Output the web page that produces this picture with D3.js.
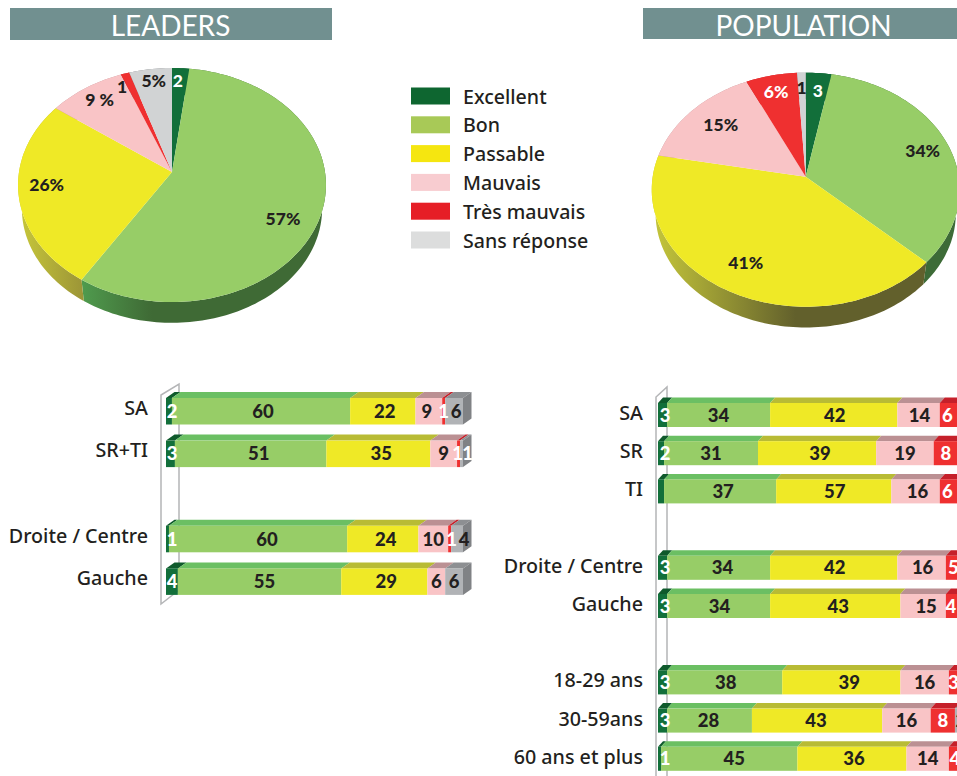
<!DOCTYPE html>
<html>
<head>
<meta charset="utf-8">
<script src="https://cdn.jsdelivr.net/npm/d3@7"></script>
<style>
    html, body { margin: 0; padding: 0; background: #fff; overflow: hidden; }
    text { font-family: Lato, sans-serif; fill: #231f20; }
    .num { font-weight: 900; text-anchor: middle; dominant-baseline: central; }
    .cat { font-family: "Noto Sans", sans-serif; font-size: 19.7px; font-weight: 500; text-anchor: end; dominant-baseline: central; }
</style>
</head>
<body>
<div id="chart"></div>
<script>
// Chart data
var answers = ["Excellent", "Bon", "Passable", "Mauvais", "Très mauvais", "Sans réponse"];

var leadersPie = [2, 57, 26, 9, 1, 5];
var leadersPieLabels = ["2", "57%", "26%", "9 %", "1", "5%"];
var populationPie = [3, 34, 41, 15, 6, 1];
var populationPieLabels = ["3", "34%", "41%", "15%", "6%", "1"];

var leadersCategories = ["SA", "SR+TI", "Droite / Centre", "Gauche"];
var leadersValues = [
    [2, 60, 22, 9, 1, 6],
    [3, 51, 35, 9, 1, 1],
    [1, 60, 24, 10, 1, 4],
    [4, 55, 29, 6, 0, 6]
];
var leadersLabels = [
    ["2", "60", "22", "9", "1", "6"],
    ["3", "51", "35", "9", "1", "1"],
    ["1", "60", "24", "10", "1", "4"],
    ["4", "55", "29", "6", "", "6"]
];

var populationCategories = ["SA", "SR", "TI", "Droite / Centre", "Gauche", "18-29 ans", "30-59ans", "60 ans et plus"];
var populationValues = [
    [3, 34, 42, 14, 6, 1],
    [2, 31, 39, 19, 8, 1],
    [2, 37, 38, 16, 6, 1],
    [3, 34, 42, 16, 5, 0],
    [3, 34, 43, 15, 4, 1],
    [3, 38, 39, 16, 3, 1],
    [3, 28, 43, 16, 8, 2],
    [1, 45, 36, 14, 4, 0]
];
// printed numbers; the TI bar prints 57 on a segment drawn at about 38
var populationLabels = [
    ["3", "34", "42", "14", "6", ""],
    ["2", "31", "39", "19", "8", "1"],
    ["", "37", "57", "16", "6", "1"],
    ["3", "34", "42", "16", "5", ""],
    ["3", "34", "43", "15", "4", ""],
    ["3", "38", "39", "16", "3", ""],
    ["3", "28", "43", "16", "8", "2"],
    ["1", "45", "36", "14", "4", ""]
];

// Colours by answer
var frontColors = ["#126f3a", "#97cd67", "#efe926", "#f9c4c6", "#ef3030", "#b1b3b6"];
var topColors = ["#0f5a2c", "#6bbf63", "#b8bb35", "#bb9093", "#c5202a", "#8d8f92"];
var pieColors = ["#126f3a", "#97cd67", "#efe926", "#f9c4c6", "#ef3030", "#d1d3d4"];
var legendColors = ["#0e6630", "#a8c957", "#f5e610", "#f8ccd0", "#e61e26", "#dcdddd"];
var sideColor = "#808285";

// SVG wrapper
var svgWidth = 957;
var svgHeight = 776;

var svg = d3.select("#chart")
    .append("svg")
    .attr("width", svgWidth)
    .attr("height", svgHeight)
    .style("display", "block");

var defs = svg.append("defs");

// Header bands
function drawHeader(x, w, h, title, textX) {
    svg.append("rect")
        .attr("x", x).attr("y", 8)
        .attr("width", w).attr("height", h)
        .attr("fill", "#719090");
    svg.append("text")
        .attr("x", textX).attr("y", 8 + h / 2 + 1)
        .attr("text-anchor", "middle")
        .attr("dominant-baseline", "central")
        .style("font-size", "28px")
        .style("font-weight", 400)
        .style("fill", "#fff")
        .text(title);
}
drawHeader(10, 322, 32, "LEADERS", 170.5);
drawHeader(643, 314, 31, "POPULATION", 803.5);

// Pies are tilted circles, so a point on the plate goes through a perspective projection
var tiltA = 153, tiltB = 115.6, tiltQ = 0.111;
var wallDepth = 24, wallShrink = 0.975;

function drawPie(id, cx, cy, values, labels, spots, walls) {
    var g = svg.append("g").attr("transform", `translate(${cx}, ${cy})`);

    function plate(p, s) {
        var w = 1 + tiltQ * s;
        return [tiltA * p / w, -tiltB * s / w];
    }
    function rim(a) {
        return plate(Math.sin(a), Math.cos(a));
    }

    var arcs = d3.pie().sort(null).startAngle(0).endAngle(2 * Math.PI)(values);
    var line = d3.line();

    function rimPoints(d) {
        var n = Math.max(2, Math.ceil((d.endAngle - d.startAngle) * 40));
        return d3.range(n + 1).map(i => rim(d.startAngle + (d.endAngle - d.startAngle) * i / n));
    }

    // Side wall first, the top covers the part at the back
    arcs.forEach((d, i) => {
        var wall = walls[i];
        var fill = sideColor;
        if (Array.isArray(wall)) {
            var gid = `${id}-wall-${i}`;
            var grad = defs.append("linearGradient")
                .attr("id", gid)
                .attr("gradientUnits", "userSpaceOnUse")
                .attr("x1", wall[0]).attr("x2", wall[1]).attr("y1", 0).attr("y2", 0);
            grad.append("stop").attr("offset", 0).attr("stop-color", wall[2]);
            grad.append("stop").attr("offset", 1).attr("stop-color", wall[3]);
            fill = `url(#${gid})`;
        } else if (wall) {
            fill = wall;
        }
        var top = rimPoints(d);
        var bottom = top.map(p => [p[0] * wallShrink, p[1] * wallShrink + wallDepth]).reverse();
        g.append("path")
            .attr("d", line(top.concat(bottom)) + "Z")
            .attr("fill", fill);
    });

    arcs.forEach((d, i) => {
        g.append("path")
            .attr("d", line([[0, 0]].concat(rimPoints(d))) + "Z")
            .attr("fill", pieColors[i]);
    });

    labels.forEach((t, i) => {
        var pos = plate(spots[i][0], spots[i][1]);
        g.append("text")
            .attr("class", "num")
            .attr("x", pos[0]).attr("y", pos[1])
            .style("font-size", "17.5px")
            .style("fill", (i === 0 || (i === 4 && t === "6%")) ? "#fff" : "#231f20")
            .text(t);
    });
}

// Where each label sits on the pie plate (x, y as fractions of the radius)
var leadersSpots = [[0.041, 0.863], [0.694, -0.389], [-0.81, -0.103], [-0.508, 0.676], [-0.356, 0.811], [-0.131, 0.863]];
var populationSpots = [[0.086, 0.818], [0.784, 0.231], [-0.362, -0.687], [-0.585, 0.48], [-0.211, 0.8], [-0.029, 0.849]];

drawPie("leaders", 172, 172, leadersPie, leadersPieLabels, leadersSpots, [
    "#0f5a2c",
    [-89, -20, "#4f9a4d", "#3f6a35"],
    [-154, -89, "#c8c83a", "#9c9537"],
    "#bb9093", "#c5202a", sideColor
]);
drawPie("population", 805.7, 176.7, populationPie, populationPieLabels, populationSpots, [
    "#0f5a2c",
    "#3d6b37",
    [-150, -10, "#c3c43a", "#62602c"],
    "#bb9093", "#c5202a", sideColor
]);

// Legend
var legendY = d3.scaleLinear().domain([0, 5]).range([96, 240]);
var legend = svg.append("g").selectAll("g")
    .data(answers)
    .enter()
    .append("g")
    .attr("transform", (d, i) => `translate(411, ${legendY(i)})`);
legend.append("rect")
    .attr("x", 0).attr("y", -8.5)
    .attr("width", 39).attr("height", 17)
    .attr("fill", (d, i) => legendColors[i]);
legend.append("text")
    .attr("x", 52).attr("y", 0)
    .attr("dominant-baseline", "central")
    .style("font-family", '"Noto Sans", sans-serif')
    .style("font-size", "19.6px")
    .style("font-weight", 500)
    .text(d => d);

// Stacked 3D bars
function drawBars(opts) {
    var x = d3.scaleLinear().domain([0, 100]).range([opts.x0, opts.x1]);
    var y = d3.scaleLinear().domain([0, 1]).range([opts.y0, opts.y0 + opts.slotStep]);
    var dx = opts.dx, dy = opts.dy, h = opts.barHeight;

    // Bracket behind the bars
    svg.append("path")
        .attr("d", d3.line()(opts.bracket))
        .attr("fill", "none")
        .attr("stroke", "#b4b5b7")
        .attr("stroke-width", 1.5);

    opts.values.forEach((row, r) => {
        var g = svg.append("g");
        var top = y(opts.slots[r]);
        var stack = d3.cumsum(row);

        row.forEach((v, i) => {
            if (!v) return;
            var a = x(stack[i] - v), b = x(stack[i]);
            g.append("path")
                .attr("d", d3.line()([[a, top], [a + dx, top - dy], [b + dx, top - dy], [b, top]]) + "Z")
                .attr("fill", topColors[i]);
        });
        // end cap
        var end = x(stack[stack.length - 1]);
        g.append("path")
            .attr("d", d3.line()([[end, top], [end + dx, top - dy], [end + dx, top + h - dy], [end, top + h]]) + "Z")
            .attr("fill", sideColor);

        row.forEach((v, i) => {
            if (!v) return;
            g.append("rect")
                .attr("x", x(stack[i] - v)).attr("y", top)
                .attr("width", x(stack[i]) - x(stack[i] - v))
                .attr("height", h)
                .attr("fill", frontColors[i]);
        });

        opts.labels[r].forEach((t, i) => {
            if (!t) return;
            var cx = (x(stack[i] - row[i]) + x(stack[i])) / 2;
            if (i === 0) cx = opts.x0 + opts.darkLabelInset;
            var nudge = opts.nudges[`${r}-${i}`] || 0;
            g.append("text")
                .attr("class", "num")
                .attr("x", cx + nudge).attr("y", top + h / 2 - 0.5)
                .style("font-size", "18.5px")
                .style("fill", (i === 0 || i === 4 || (opts.whiteLast === r && i === 5)) ? "#fff" : "#231f20")
                .text(t);
        });

        svg.append("text")
            .attr("class", "cat")
            .attr("x", opts.catX).attr("y", top + h / 2 - opts.catLift)
            .text(opts.categories[r]);
    });
}

// Printed numbers are not quite centred on their segments in the original
drawBars({
    categories: leadersCategories, values: leadersValues, labels: leadersLabels,
    slots: [0, 1, 3, 4], x0: 166, x1: 463, y0: 398, slotStep: 42.6,
    barHeight: 26.5, dx: 8.5, dy: 6, catX: 148, catLift: 4, darkLabelInset: 6, whiteLast: 1,
    bracket: [[179, 590], [161, 604], [161, 395], [179, 384], [179, 590]],
    nudges: { "0-1": 2, "0-2": 2, "0-3": -2, "0-5": 2, "1-1": 8, "1-2": 3, "1-4": -1, "1-5": 6,
        "2-1": 9, "2-2": 3, "2-4": 2, "2-5": 7, "3-1": 5, "3-2": 2 }
});
drawBars({
    categories: populationCategories, values: populationValues, labels: populationLabels,
    slots: [0, 1, 2, 4, 5, 7, 8, 9], x0: 658, x1: 961, y0: 403, slotStep: 38.2,
    barHeight: 24, dx: 5, dy: 5.5, catX: 643, catLift: 2.5, darkLabelInset: 7,
    bracket: [[667, 780], [656, 790], [656, 397], [667, 387], [667, 780]],
    nudges: { "0-2": 1, "0-3": 1, "0-4": -1.5, "1-2": 3, "1-5": 2, "2-1": 3, "2-2": 1, "2-3": 2, "2-4": -1.5, "2-5": 2,
        "3-1": 4, "3-2": 1, "3-3": 1, "4-1": 1, "4-2": 3, "4-3": 3, "4-4": -1, "5-1": 1, "5-2": 8,
        "6-1": -1, "6-2": -1, "6-5": 3, "7-1": 5, "7-2": 2 }
});
</script>
</body>
</html>
